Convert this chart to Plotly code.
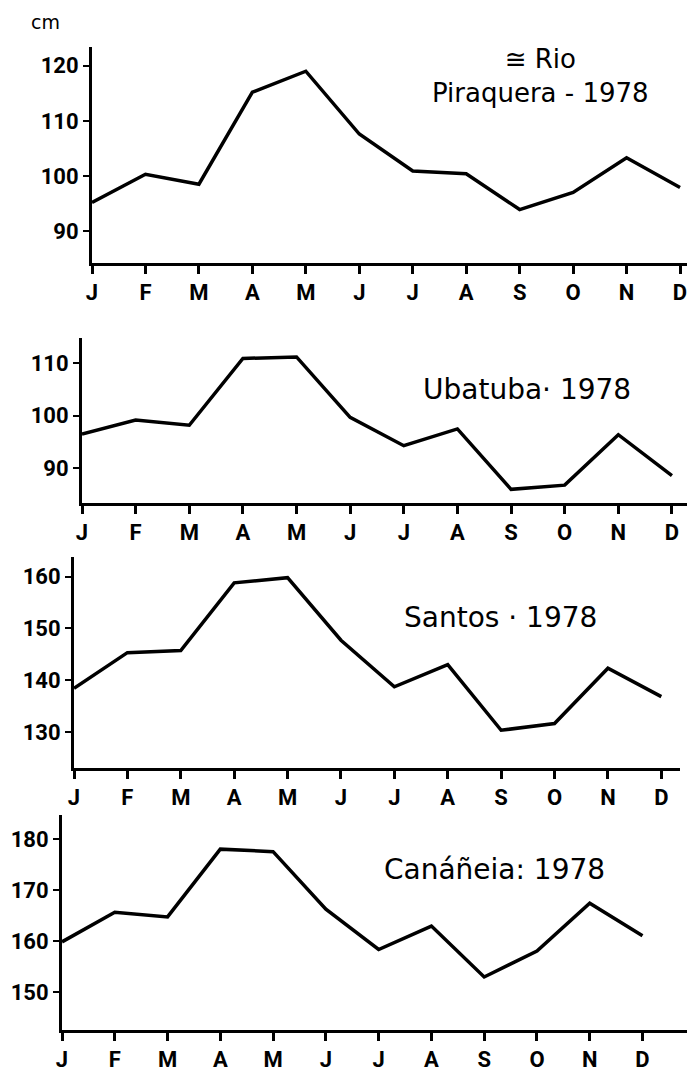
import plotly.graph_objects as go
from plotly.subplots import make_subplots

# the page body adds an 8px margin, so the figure is drawn 8px smaller
# and every pixel position below is shifted by OFF
OFF = 8
W, H = 695 - OFF, 1088 - OFF

months = ['J', 'F', 'M', 'A', 'M', 'J', 'J', 'A', 'S', 'O', 'N', 'D']

# monthly mean sea level, cm
rio_piraquera = [95.2, 100.3, 98.5, 115.2, 119.0, 107.6, 100.9, 100.4, 93.9, 97.0, 103.3, 97.9]
ubatuba = [96.5, 99.2, 98.2, 110.9, 111.2, 99.7, 94.3, 97.5, 86.0, 86.8, 96.4, 88.6]
santos = [138.4, 145.3, 145.7, 158.8, 159.8, 147.7, 138.7, 143.0, 130.3, 131.6, 142.3, 136.8]
cananeia = [159.9, 165.7, 164.8, 178.1, 177.6, 166.3, 158.4, 163.0, 153.0, 158.1, 167.5, 161.1]

y_ticks = [
    [90, 100, 110, 120],
    [90, 100, 110],
    [130, 140, 150, 160],
    [150, 160, 170, 180],
]

series = [rio_piraquera, ubatuba, santos, cananeia]

# panel geometry in page pixels: (left, right, top, bottom), x range max, y range
panels = [
    (92, 695, 47, 263, 11.28, [84.2, 123.4]),
    (82, 695, 338, 503, 11.43, [83.4, 114.8]),
    (74, 680, 557, 768, 11.35, [123.0, 163.8]),
    (62, 690, 815, 1030, 11.9, [142.6, 184.8]),
]


def px_x(p):
    return (p - OFF) / W


def px_y(p):
    return 1 - (p - OFF) / H


fig = make_subplots(rows=4, cols=1)

tick_font = dict(family='Roboto', size=22, color='black', weight='bold')

for i, vals in enumerate(series):
    r = i + 1
    left, right, top, bottom, xmax, yr = panels[i]
    fig.add_trace(go.Scatter(
        x=list(range(12)), y=vals, mode='lines',
        line=dict(color='black', width=3.5),
        showlegend=False, hoverinfo='skip'
    ), row=r, col=1)
    fig.update_xaxes(
        domain=[px_x(left), min(px_x(right), 1.0)], range=[0, xmax],
        tickvals=list(range(12)), ticktext=months,
        showline=True, linecolor='black', linewidth=3,
        ticks='outside', ticklen=8, tickwidth=3, tickcolor='black',
        showgrid=False, zeroline=False, tickfont=tick_font,
        automargin=False, row=r, col=1
    )
    fig.update_yaxes(
        domain=[px_y(bottom), px_y(top)], range=yr,
        tickvals=y_ticks[i],
        showline=True, linecolor='black', linewidth=3,
        ticks='outside', ticklen=6, tickwidth=2, tickcolor='black',
        showgrid=False, zeroline=False, tickfont=tick_font,
        automargin=False, row=r, col=1
    )

title_font = dict(family='DejaVu Sans', size=28, color='black')

labels = [
    ('Ubatuba\u00b7 1978', 527, 390),
    ('Santos \u00b7 1978', 500, 617),
    ('Can\u00e1\u00f1eia: 1978', 494, 869),
]
for text, px, py in labels:
    fig.add_annotation(
        text=text, xref='paper', yref='paper',
        x=px_x(px), y=px_y(py), xanchor='center', yanchor='middle',
        showarrow=False, font=title_font
    )

# two-line title of the first panel
fig.add_annotation(
    text='\u2245 Rio<br>Piraquera - 1978', xref='paper', yref='paper',
    x=px_x(540), y=px_y(76), xanchor='center', yanchor='middle', align='center',
    showarrow=False, font=dict(family='DejaVu Sans', size=26, color='black')
)

fig.add_annotation(
    text='cm', xref='paper', yref='paper',
    x=px_x(45), y=px_y(22), xanchor='center', yanchor='middle',
    showarrow=False, font=dict(family='DejaVu Sans', size=19, color='black')
)

fig.update_layout(
    width=W, height=H,
    margin=dict(l=0, r=0, t=0, b=0),
    plot_bgcolor='white', paper_bgcolor='white',
)

fig.write_html("out.html")
